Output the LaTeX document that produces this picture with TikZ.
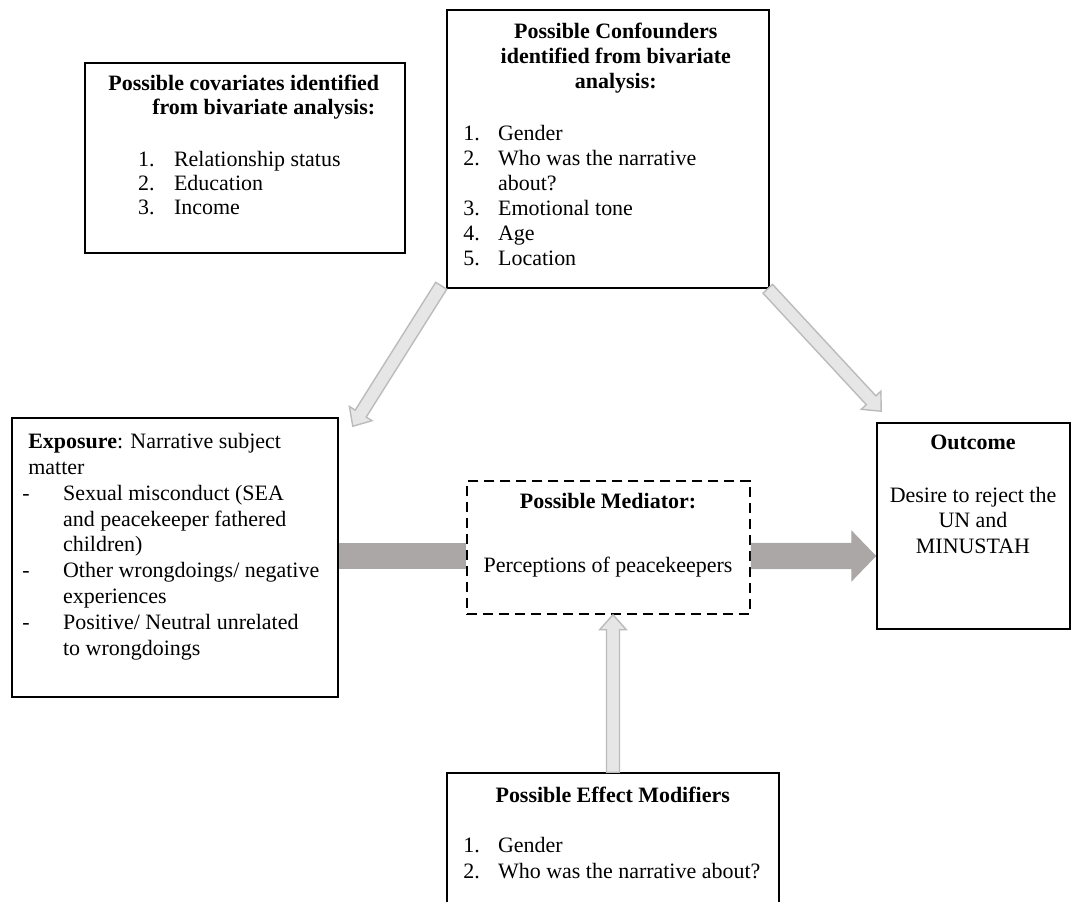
\documentclass[tikz,border=0pt]{standalone}
\usepackage{fontspec}
\setmainfont{Liberation Serif}
\usetikzlibrary{
  calc,
  positioning
}
\definecolor{hollowfill}{HTML}{E6E6E6}
\definecolor{hollowline}{HTML}{BBBBBB}
\definecolor{barfill}{HTML}{ABA7A6}
\tikzset{
  % For the framed boxes.
  box/.style={
    draw,
    line width=0.9pt,
    inner sep=0pt},
%
  % For the dashed mediator box.
  dashed box/.style={
    box,
    dash pattern=on 5.7pt off 3.4pt},
%
  % For the texts inside the boxes.
  box text/.style={
    inner sep=0pt,
    align=left,
    font=\fontsize{12.5pt}{13.6pt}\selectfont},
%
  % For the light, outlined block arrows.
  hollow arrow/.style={
    fill=hollowfill,
    draw=hollowline,
    line width=0.8pt},
%
  % For the dark, filled block arrows.
  flow bar/.style={
    fill=barfill,
    draw=none}
}
% Block arrow: style, half shaft, half head, head length, from, to.
\newcommand*{\BlockArrow}[6]{%
  \coordinate (neck) at ($(#6)!#4!(#5)$);
  \filldraw[#1]
    ($(#5)!#2!90:(#6)$) -- ($(neck)!#2!90:(#6)$)
      -- ($(neck)!#3!90:(#6)$) -- (#6)
      -- ($(neck)!#3!-90:(#6)$) -- ($(neck)!#2!-90:(#6)$)
      -- ($(#5)!#2!-90:(#6)$) -- cycle;}

\begin{document}
\begin{tikzpicture}[x=0.02cm, y=-0.02cm]
  \useasboundingbox (0,0) rectangle (1073,902);

  % Boxes.
  \node[box, minimum width=6.4cm, minimum height=3.8cm] (cov) at (245,158) {};
  \node[box, minimum width=6.44cm, minimum height=5.56cm] (conf) at (608,149) {};
  \node[box, minimum width=6.52cm, minimum height=5.58cm] (expo) at (175,557.5) {};
  \node[dashed box, minimum width=5.66cm, minimum height=2.66cm] (med) at (608.5,547.5) {};
  \node[box, minimum width=3.86cm, minimum height=4.12cm] (out) at (973.5,526) {};
  \node[box, minimum width=6.64cm, minimum height=2.64cm] (mod) at (613,839) {};

  % Texts.
  \node[box text, anchor=north west] (cov text) at (108,75) {%
    \textbf{Possible covariates identified}\\
    \hspace*{25pt}\textbf{from bivariate analysis:}\\[16pt]
    \hspace*{17pt}\makebox[20.4pt][l]{1.}Relationship status\\
    \hspace*{17pt}\makebox[20.4pt][l]{2.}Education\\
    \hspace*{17pt}\makebox[20.4pt][l]{3.}Income};

  \node[box text, anchor=north west, font=\fontsize{12.5pt}{14.2pt}\selectfont]
    (conf text) at (463,23) {%
    \makebox[173.5pt][c]{\textbf{Possible Confounders}}\\
    \makebox[173.5pt][c]{\textbf{identified from bivariate}}\\
    \makebox[173.5pt][c]{\textbf{analysis:}}\\[15.3pt]
    \makebox[19.8pt][l]{1.}Gender\\
    \makebox[19.8pt][l]{2.}Who was the narrative\\
    \hspace*{19.8pt}about?\\
    \makebox[19.8pt][l]{3.}Emotional tone\\
    \makebox[19.8pt][l]{4.}Age\\
    \makebox[19.8pt][l]{5.}Location};

  \node[box text, anchor=north west, font=\fontsize{12.5pt}{14.7pt}\selectfont]
    (expo text) at (22,433) {%
    \hspace*{3.4pt}\textbf{Exposure}: Narrative subject\\
    \hspace*{3.4pt}matter\\
    \makebox[23.2pt][l]{-}Sexual misconduct (SEA\\
    \hspace*{23.2pt}and peacekeeper fathered\\
    \hspace*{23.2pt}children)\\
    \makebox[23.2pt][l]{-}Other wrongdoings/ negative\\
    \hspace*{23.2pt}experiences\\
    \makebox[23.2pt][l]{-}Positive/ Neutral unrelated\\
    \hspace*{23.2pt}to wrongdoings};

  \node[box text, align=center, anchor=north] (med text) at (608,493) {%
    \textbf{Possible Mediator:}\\[22.7pt]
    Perceptions of peacekeepers};

  \node[box text, align=center, anchor=north, font=\fontsize{12.5pt}{14.7pt}\selectfont]
    (out text) at (973,435) {%
    \textbf{Outcome}\\[15pt]
    Desire to reject the\\
    UN and\\
    MINUSTAH};

  \node[box text, anchor=north west, font=\fontsize{12.5pt}{14.7pt}\selectfont]
    (mod text) at (463,787) {%
    \makebox[170pt][c]{\textbf{Possible Effect Modifiers}}\\[13.6pt]
    \makebox[19.8pt][l]{1.}Gender\\
    \makebox[19.8pt][l]{2.}Who was the narrative about?};

  % Arrows between the boxes.
  \coordinate (conf left) at ([shift={(-5,-3)}]conf.south west);
  \coordinate (expo corner) at ([shift={(14,9)}]expo.north east);
  \coordinate (conf right) at ([shift={(-2,0)}]conf.south east);
  \coordinate (out corner) at ([shift={(5,-11)}]out.north west);
  \coordinate (mod top) at (mod.north);
  \coordinate (med bottom) at (med.south -| mod.north);
  \coordinate (flow in) at (expo.east |- 0,556);
  \coordinate (flow mid) at (med.west |- 0,556);
  \coordinate (flow out) at (med.east |- 0,556);
  \coordinate (flow end) at (out.west |- 0,556);

  \BlockArrow{hollow arrow}{3.7pt}{7.6pt}{8.5pt}{conf left}{expo corner}
  \BlockArrow{hollow arrow}{3.7pt}{7.6pt}{8.5pt}{conf right}{out corner}
  \BlockArrow{hollow arrow}{3.7pt}{7.6pt}{8.5pt}{mod top}{med bottom}
  \fill[flow bar] ($(flow in)+(0,-13)$) rectangle ($(flow mid)+(0,13)$);
  \BlockArrow{flow bar}{7.4pt}{14.7pt}{14.2pt}{flow out}{flow end}
\end{tikzpicture}
\end{document}
